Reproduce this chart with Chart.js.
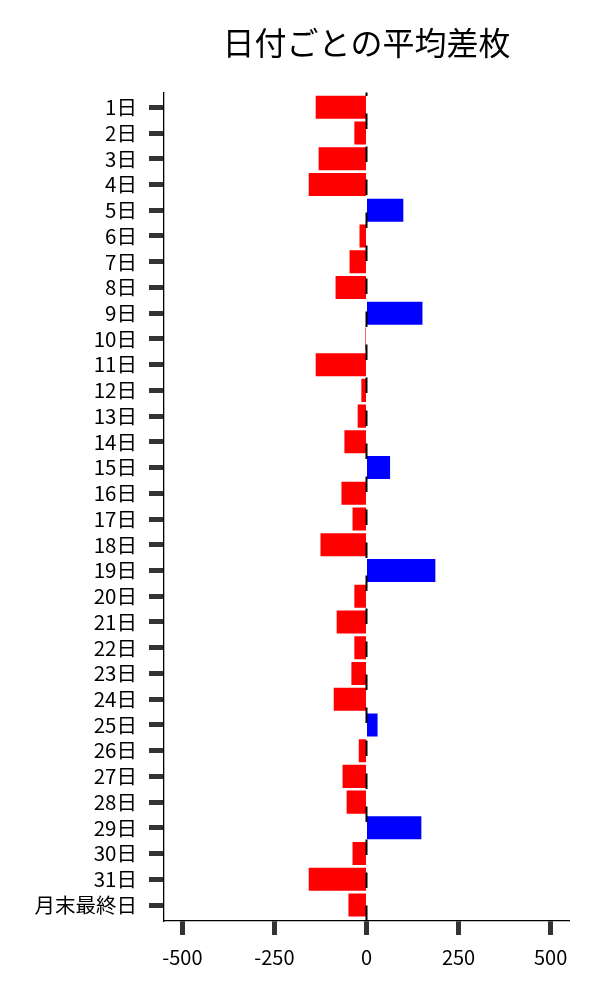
<!DOCTYPE html>
<html>
<head>
<meta charset="utf-8">
<script src="https://cdn.jsdelivr.net/npm/chart.js@4.4.1/dist/chart.umd.min.js"></script>
<style>
  html, body { margin: 0; padding: 0; background: #fff; }
  #wrap { width: 600px; height: 1000px; }
</style>
</head>
<body>
<div id="wrap"><canvas id="chart" width="600" height="1000"></canvas></div>
<script>
// categories (days of the month)
const days = ['1日', '2日', '3日', '4日', '5日', '6日', '7日', '8日', '9日', '10日',
    '11日', '12日', '13日', '14日', '15日', '16日', '17日', '18日', '19日', '20日',
    '21日', '22日', '23日', '24日', '25日', '26日', '27日', '28日', '29日', '30日',
    '31日', '月末最終日'];

// average difference per day
const avgDiff = [-138, -33, -130, -157, 100, -19, -46, -84, 152, -3,
    -138, -14, -24, -60, 64, -68, -38, -125, 187, -33,
    -81, -33, -41, -89, 30, -21, -65, -54, 149, -38,
    -157, -49];

const xTicks = [-500, -250, 0, 250, 500];

const FONT = '"Noto Sans CJK JP", "Noto Sans", sans-serif';

// vertical dashed line at zero, drawn over the bars
const zeroLine = {
    id: 'zeroLine',
    afterDatasetsDraw(chart) {
        const ctx = chart.ctx;
        const x = chart.scales.x.getPixelForValue(0);
        const area = chart.chartArea;
        ctx.save();
        ctx.strokeStyle = '#000';
        ctx.lineWidth = 2;
        ctx.setLineDash([15.5, 17.5]);
        ctx.beginPath();
        ctx.moveTo(x, area.bottom);
        ctx.lineTo(x, area.top);
        ctx.stroke();
        ctx.restore();
    }
};

new Chart(document.getElementById('chart'), {
    type: 'bar',
    data: {
        datasets: [{
            data: avgDiff.map((v, i) => ({ x: v, y: i })),
            backgroundColor: avgDiff.map(v => v < 0 ? '#ff0000' : '#0000ff'),
            borderWidth: 0,
            categoryPercentage: 1.0,
            barPercentage: 0.895
        }]
    },
    options: {
        indexAxis: 'y',
        responsive: false,
        animation: false,
        devicePixelRatio: 1,
        layout: { padding: { left: 0, right: 31, top: 0, bottom: 0 } },
        plugins: {
            legend: { display: false },
            tooltip: { enabled: false },
            title: {
                display: true,
                text: '日付ごとの平均差枚',
                fullSize: false,
                color: '#000',
                font: { family: FONT, size: 32, weight: 'normal' },
                padding: { top: 24, bottom: 30 }
            }
        },
        scales: {
            x: {
                type: 'linear',
                min: -550,
                max: 550,
                afterBuildTicks: axis => { axis.ticks = xTicks.map(v => ({ value: v })); },
                afterFit: axis => { axis.height = 79; },
                border: { display: true, color: '#000', width: 1.3 },
                grid: {
                    drawOnChartArea: false,
                    drawTicks: true,
                    tickLength: 14,
                    tickWidth: 5,
                    tickColor: '#333'
                },
                ticks: {
                    color: '#000',
                    padding: 10,
                    maxRotation: 0,
                    font: { family: FONT, size: 20 }
                }
            },
            y: {
                type: 'linear',
                reverse: true,
                offset: false,
                min: -0.58,
                max: days.length - 1 + 0.62,
                afterBuildTicks: axis => { axis.ticks = days.map((d, i) => ({ value: i })); },
                afterFit: axis => { axis.width = 164; },
                border: { display: true, color: '#000', width: 1.3 },
                grid: {
                    offset: false,
                    drawOnChartArea: false,
                    drawTicks: true,
                    tickLength: 15,
                    tickWidth: 5,
                    tickColor: '#333'
                },
                ticks: {
                    color: '#000',
                    padding: 12,
                    autoSkip: false,
                    callback: v => days[v],
                    font: { family: FONT, size: 20.5 }
                }
            }
        }
    },
    plugins: [zeroLine]
});
</script>
</body>
</html>
